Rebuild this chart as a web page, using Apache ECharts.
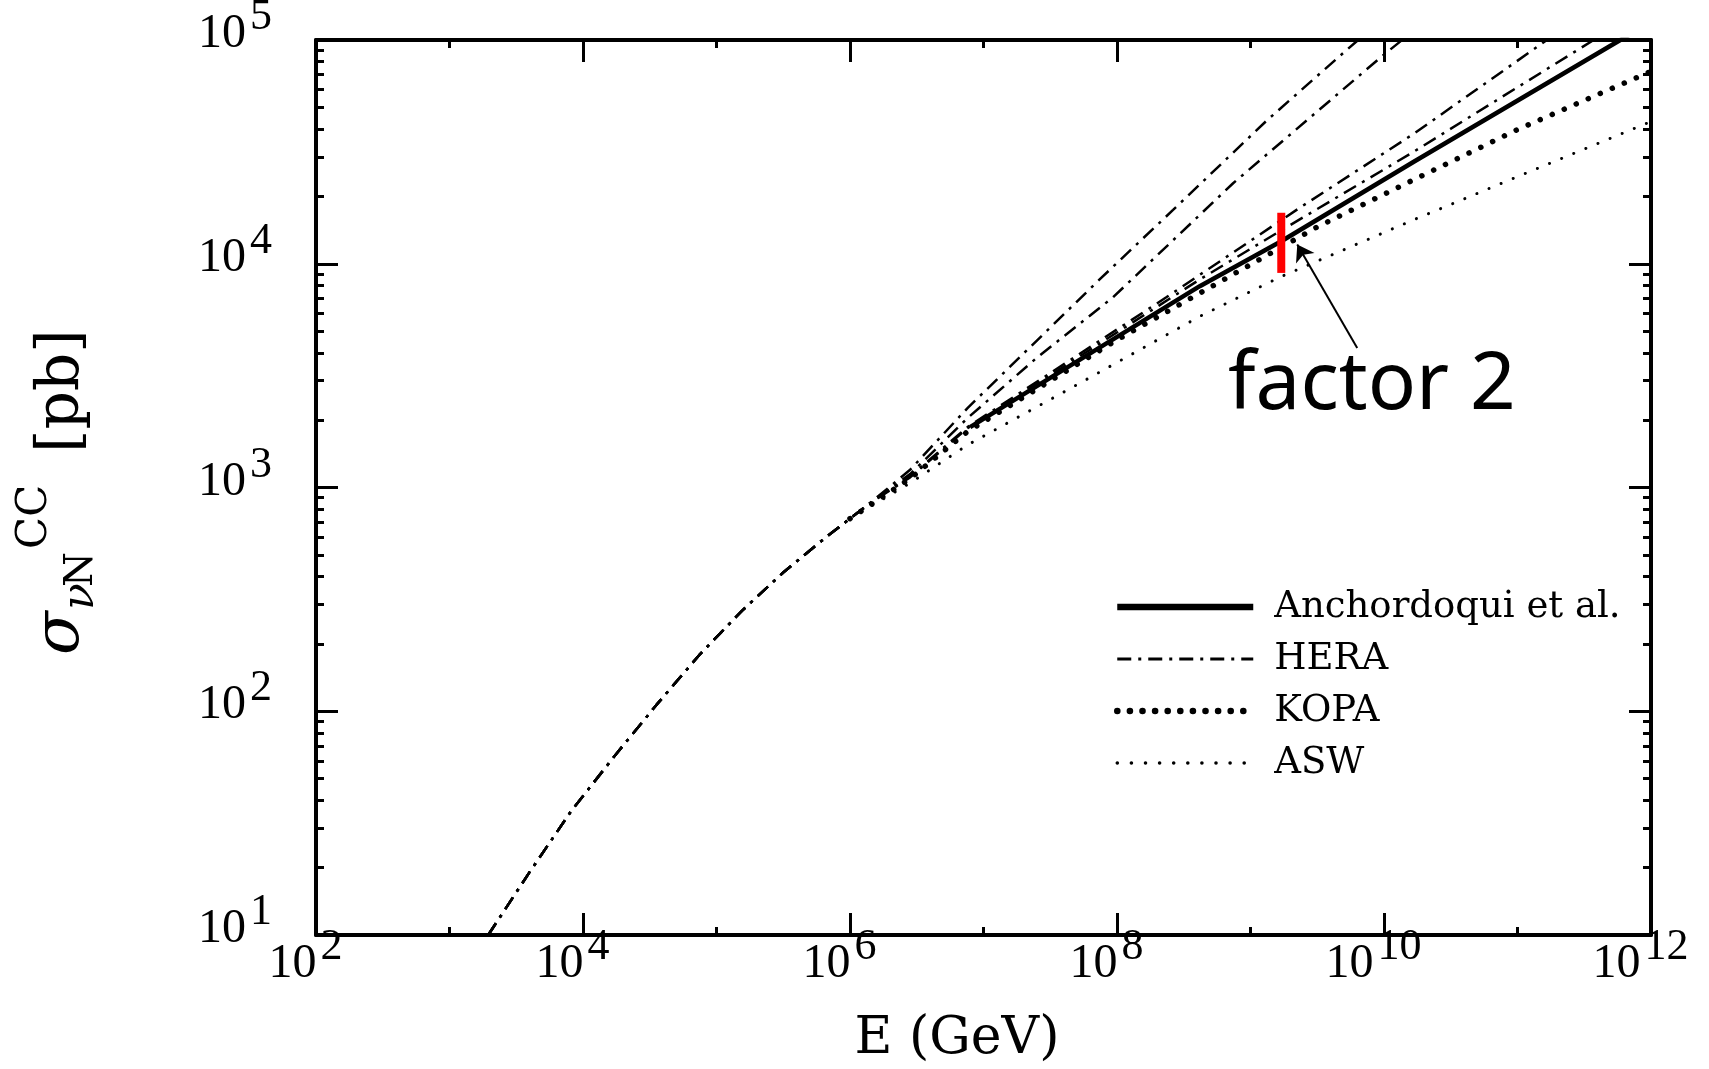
<!DOCTYPE html>
<html>
<head>
<meta charset="utf-8">
<script src="https://cdn.jsdelivr.net/npm/echarts@6/dist/echarts.min.js"></script>
<style>
  html, body { margin: 0; padding: 0; background: #ffffff; }
  #chart { width: 1709px; height: 1069px; }
</style>
</head>
<body>
<div id="chart"></div>
<script>
// Charged-current neutrino-nucleon cross section (pb) against neutrino energy (GeV)

// Low-energy branch common to every parametrisation
const E_SHARED = [1.95e3, 3.98e3, 8.18e3, 1.78e4, 3.56e4, 7.41e4, 1.55e5, 3.16e5, 6.71e5, 1.41e6];
const SIG_SHARED = [10, 19.1, 35.9, 64.6, 107, 178, 281, 417, 604, 851];

// HERA-based extrapolations (four variants)
const E_HERA_A = [2.82e6, 7.59e6, 7.41e7, 2.63e8, 1.32e9, 5.25e9, 1.0e10];
const SIG_HERA_A = [1200, 2265, 8510, 17400, 43600, 90200, 126000];
const E_HERA_B = [2.82e6, 7.59e6, 2.51e7, 9.33e7, 7.41e8, 9.77e9, 2.0e10];
const SIG_HERA_B = [1148, 2042, 3802, 7080, 22900, 85100, 120000];
const E_HERA_C = [2.82e6, 7.59e6, 2.34e8, 2.34e9, 1.66e10, 1.66e11, 3.16e11];
const SIG_HERA_C = [1122, 1862, 7080, 17800, 38000, 100000, 132000];
const E_HERA_D = [2.82e6, 7.59e6, 4.17e8, 1.70e9, 1.66e10, 3.72e11, 1.0e12];
const SIG_HERA_D = [1110, 1841, 8510, 14100, 31600, 100000, 145000];

// Anchordoqui et al.
const E_ANCH = [7.94e6, 3.16e7, 4.17e8, 1.70e9, 1.66e10, 5.89e11, 1.0e12];
const SIG_ANCH = [1862, 3090, 7940, 12600, 28500, 100000, 120000];

// KOPA
const E_KOPA = [1.0e6, 2.82e6, 7.59e6, 1.0e8, 3.16e9, 1.66e10, 1.0e11, 1.0e12];
const SIG_KOPA = [726, 1096, 1778, 4570, 14600, 23700, 39800, 72400];

// ASW
const E_ASW = [1.0e6, 2.82e6, 7.59e6, 4.27e7, 4.17e8, 1.66e9, 1.66e10, 1.0e11, 1.0e12];
const SIG_ASW = [726, 1047, 1549, 2730, 5820, 8710, 15700, 24500, 43200];

// "factor 2" spread marker and its pointer
const BAR_E = 1.7e9;
const BAR_SIGMA = [9100, 16900];
const ARROW_FROM = [6.3e9, 4200];
const ARROW_TO = [2.24e9, 12200];

// Axis ticks (powers of ten)
const X_MAJOR_POW = [2, 4, 6, 8, 10, 12];
const X_MINOR_POW = [3, 5, 7, 9, 11];
const Y_MAJOR_POW = [1, 2, 3, 4, 5];
const Y_MINOR_MANT = [2, 3, 4, 5, 6, 7, 8, 9];

const xMajor = X_MAJOR_POW.map(p => Math.pow(10, p));
const xMinor = X_MINOR_POW.map(p => Math.pow(10, p));
const yMajor = Y_MAJOR_POW.map(p => Math.pow(10, p));
const yMinor = [];
Y_MAJOR_POW.slice(0, -1).forEach(p => Y_MINOR_MANT.forEach(m => yMinor.push(m * Math.pow(10, p))));

const pairs = (xs, ys) => xs.map((x, i) => [x, ys[i]]);

const TICK_FONT = '"Liberation Serif", "Times New Roman", serif';
const TEXT_FONT = '"DejaVu Serif", serif';

const powerLabel = v => '{b|10}{s|' + Math.round(Math.log10(v)) + '}';
const powerRich = {
  b: { fontFamily: TICK_FONT, fontSize: 48, lineHeight: 48, color: '#000', verticalAlign: 'bottom' },
  s: { fontFamily: TICK_FONT, fontSize: 44, lineHeight: 44, color: '#000', verticalAlign: 'bottom', padding: [0, 0, 19, 4] }
};

function xAxisDef(position, ticks, len, labels, line) {
  return {
    type: 'log', logBase: 10, min: 1e2, max: 1e12, position: position,
    axisLine: { show: line, onZero: false, lineStyle: { color: '#000', width: 4 } },
    axisTick: { show: true, inside: true, length: len, customValues: ticks, lineStyle: { color: '#000', width: 3 } },
    axisLabel: labels ? {
      show: true, customValues: ticks, formatter: powerLabel, rich: powerRich,
      margin: 5, padding: [0, 21, 0, 0]
    } : { show: false },
    splitLine: { show: false }, minorTick: { show: false }, minorSplitLine: { show: false }
  };
}

function yAxisDef(position, ticks, len, labels, line) {
  return {
    type: 'log', logBase: 10, min: 1e1, max: 1e5, position: position,
    axisLine: { show: line, onZero: false, lineStyle: { color: '#000', width: 4 } },
    axisTick: { show: true, inside: true, length: len, customValues: ticks, lineStyle: { color: '#000', width: 3 } },
    axisLabel: labels ? {
      show: true, customValues: ticks, formatter: powerLabel, rich: powerRich,
      margin: 44, padding: [0, 0, 11, 0]
    } : { show: false },
    splitLine: { show: false }, minorTick: { show: false }, minorSplitLine: { show: false }
  };
}

function curve(name, xs, ys, style, z) {
  return {
    type: 'line', name: name, data: pairs(xs, ys),
    symbol: 'none', showSymbol: false, smooth: false,
    itemStyle: { color: 'rgba(0,0,0,0)' },
    lineStyle: style, silent: true, z: z, xAxisIndex: 0, yAxisIndex: 0
  };
}

const heraStyle = { color: '#000', width: 2.5, type: [14, 7, 3, 7] };
const anchStyle = { color: '#000', width: 4.5, type: 'solid' };
const kopaStyle = { color: '#000', width: 5.5, type: [0.1, 13], cap: 'round' };
const aswStyle = { color: '#000', width: 3, type: [0.1, 13], cap: 'round' };

const chart = echarts.init(document.getElementById('chart'), null, { renderer: 'canvas' });

chart.setOption({
  backgroundColor: '#ffffff',
  animation: false,
  grid: { left: 316, right: 58, top: 40, bottom: 134, containLabel: false, outerBoundsMode: 'none' },
  xAxis: [
    xAxisDef('bottom', xMajor, 22, true, true),
    xAxisDef('bottom', xMinor, 8, false, false),
    xAxisDef('top', xMajor, 22, false, true),
    xAxisDef('top', xMinor, 8, false, false)
  ],
  yAxis: [
    yAxisDef('left', yMajor, 22, true, true),
    yAxisDef('left', yMinor, 8, false, false),
    yAxisDef('right', yMajor, 22, false, true),
    yAxisDef('right', yMinor, 8, false, false)
  ],
  legend: {
    data: [
      { name: 'Anchordoqui et al.', lineStyle: { width: 6.5 } },
      { name: 'HERA', lineStyle: { width: 3 } },
      { name: 'KOPA', lineStyle: { width: 6.5, type: [0.1, 12.5], cap: 'round' } },
      { name: 'ASW', lineStyle: { width: 3.5, type: [0.1, 14], cap: 'round' } }
    ],
    orient: 'vertical', left: 1109, top: 582,
    itemWidth: 136, itemHeight: 20, itemGap: 12,
    selectedMode: false,
    lineStyle: { width: 'inherit' },
    textStyle: { fontFamily: TEXT_FONT, fontSize: 37, lineHeight: 40, color: '#000', padding: [0, 0, 0, 16] }
  },
  series: [
    curve('HERA', E_SHARED.concat(E_HERA_A), SIG_SHARED.concat(SIG_HERA_A), heraStyle, 2),
    curve('HERA', E_SHARED.concat(E_HERA_B), SIG_SHARED.concat(SIG_HERA_B), heraStyle, 2),
    curve('HERA', E_SHARED.concat(E_HERA_C), SIG_SHARED.concat(SIG_HERA_C), heraStyle, 2),
    curve('HERA', E_SHARED.concat(E_HERA_D), SIG_SHARED.concat(SIG_HERA_D), heraStyle, 2),
    curve('ASW', E_ASW, SIG_ASW, aswStyle, 3),
    curve('KOPA', E_KOPA, SIG_KOPA, kopaStyle, 4),
    curve('Anchordoqui et al.', E_ANCH, SIG_ANCH, anchStyle, 5),
    {
      type: 'line', name: 'spread', data: BAR_SIGMA.map(s => [BAR_E, s]),
      symbol: 'none', showSymbol: false, silent: true, z: 6,
      lineStyle: { color: '#ff0000', width: 8, cap: 'butt' },
      markLine: {
        silent: true, symbol: ['none', 'arrow'], symbolSize: 16,
        label: { show: false },
        lineStyle: { color: '#000', width: 2, type: 'solid' },
        data: [[{ coord: ARROW_FROM }, { coord: ARROW_TO }]]
      }
    }
  ],
  graphic: [
    {
      type: 'text', left: 1228, top: 346, z: 10,
      style: { text: 'factor 2', font: '80px "Noto Sans"', fill: '#000' }
    },
    {
      type: 'text', x: 957, y: 1039, z: 10,
      style: { text: 'E (GeV)', font: '52px ' + TEXT_FONT, fill: '#000', align: 'center', verticalAlign: 'middle' }
    },
    {
      type: 'group', x: 83, y: 655, rotation: Math.PI / 2, z: 10,
      children: [
        { type: 'text', x: 0, y: -22, style: { text: 'σ', font: 'italic 64px ' + TEXT_FONT, fill: '#000', verticalAlign: 'middle' } },
        { type: 'text', x: 45, y: -1, style: { text: 'ν', font: 'italic 44px ' + TEXT_FONT, fill: '#000', verticalAlign: 'middle' } },
        { type: 'text', x: 68, y: -1, style: { text: 'N', font: '40px ' + TEXT_FONT, fill: '#000', verticalAlign: 'middle' } },
        { type: 'text', x: 106, y: -48, style: { text: 'CC', font: '42px ' + TEXT_FONT, fill: '#000', verticalAlign: 'middle' } },
        { type: 'text', x: 202, y: -21, style: { text: '[pb]', font: '60px ' + TEXT_FONT, fill: '#000', verticalAlign: 'middle' } }
      ]
    }
  ]
});
</script>
</body>
</html>
